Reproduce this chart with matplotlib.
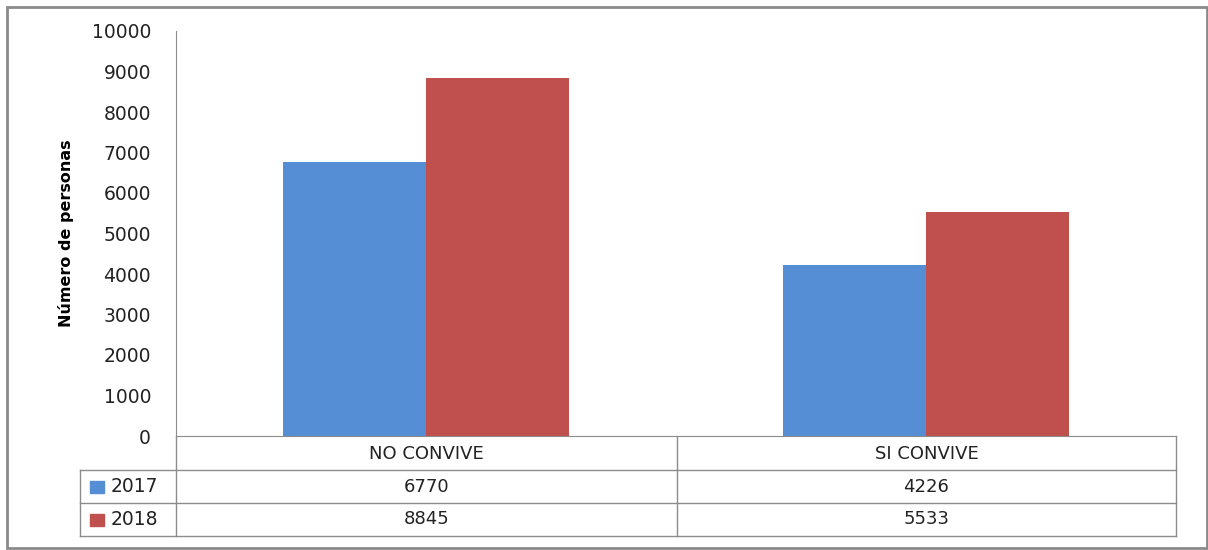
import matplotlib.pyplot as plt
from matplotlib.lines import Line2D
from matplotlib.patches import Rectangle

# Datos
categorias = ['NO CONVIVE', 'SI CONVIVE']
anios = ['2017', '2018']
valores_2017 = [6770, 4226]
valores_2018 = [8845, 5533]
colores = ['#558ED5', '#C0504D']

W, H = 1208, 550
fig = plt.figure(figsize=(W / 100, H / 100), dpi=100)


def fx(x):
    return x / W


def fy(y):
    return 1 - y / H


gris = '#8C8C8C'

# marco exterior
fig.add_artist(Rectangle((fx(7), fy(548)), fx(1207) - fx(7), fy(7) - fy(548),
                         transform=fig.transFigure, fill=False,
                         edgecolor='#8A8A8A', linewidth=2))

ax = fig.add_axes([fx(176), fy(436), fx(1176) - fx(176), fy(31) - fy(436)])

ancho = 0.286
x = range(len(categorias))
ax.bar([i - ancho / 2 for i in x], valores_2017, width=ancho, color=colores[0])
ax.bar([i + ancho / 2 for i in x], valores_2018, width=ancho, color=colores[1])

ax.set_xlim(-0.5, 1.5)
ax.set_ylim(0, 10000)
ax.set_yticks(range(0, 10001, 1000))
ax.tick_params(axis='y', length=0, labelsize=13.5, pad=18, colors='#222222')
ax.set_xticks([])
for s in ['top', 'right']:
    ax.spines[s].set_visible(False)
ax.spines['left'].set_color(gris)
ax.spines['bottom'].set_color(gris)
ax.set_ylabel('Número de personas', fontsize=11.5, fontweight='bold', labelpad=13)

# tabla de datos bajo el eje
def linea(x0, y0, x1, y1):
    fig.add_artist(Line2D([fx(x0), fx(x1)], [fy(y0), fy(y1)],
                          transform=fig.transFigure, color=gris, linewidth=1))


filas = [436, 470, 503, 536]
for y in filas[1:]:
    linea(80, y, 1176, y)
for xv in [176, 677, 1176]:
    linea(xv, 436, xv, 536)
linea(80, 470, 80, 536)

centros = [426.5, 926.5]
for c, cat in zip(centros, categorias):
    fig.text(fx(c), fy(454), cat, ha='center', va='center', fontsize=13, color='#222222')

series = [valores_2017, valores_2018]
for j, (anio, vals, col) in enumerate(zip(anios, series, colores)):
    ym = (filas[j + 1] + filas[j + 2]) / 2
    fig.add_artist(Rectangle((fx(90), fy(ym + 6)), fx(104) - fx(90), fy(ym - 6) - fy(ym + 6),
                             transform=fig.transFigure, color=col))
    fig.text(fx(111), fy(ym), anio, ha='left', va='center', fontsize=13.5, color='#222222')
    for c, v in zip(centros, vals):
        fig.text(fx(c), fy(ym), str(v), ha='center', va='center', fontsize=13, color='#222222')

fig.savefig('out.png', dpi=100)
